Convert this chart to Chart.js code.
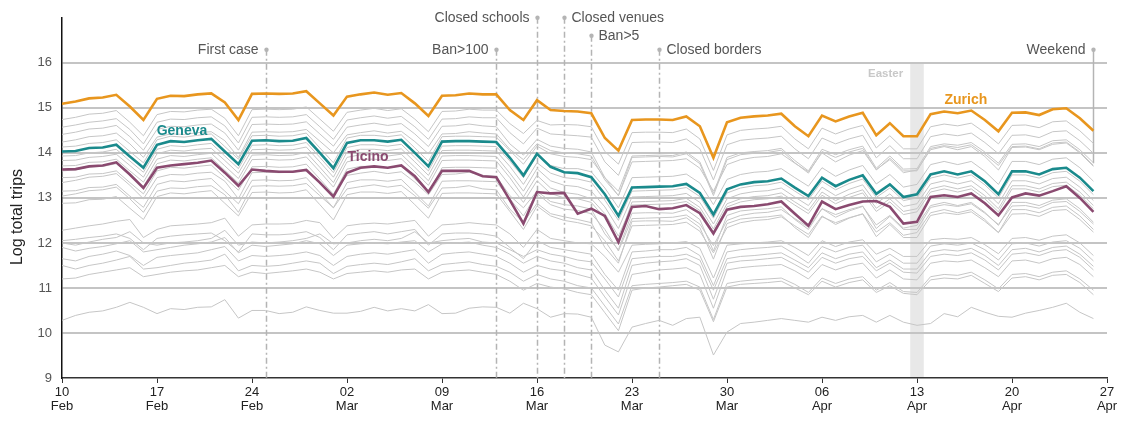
<!DOCTYPE html>
<html>
<head>
<meta charset="utf-8">
<script src="https://cdn.jsdelivr.net/npm/chart.js@4.4.0/dist/chart.umd.min.js"></script>
<style>
  html, body { margin: 0; padding: 0; background: #fff; }
</style>
</head>
<body>
<canvas id="tripsChart" width="1125" height="421"></canvas>
<script>
// x axis: day index from 10 Feb (0) to 26 Apr (76)
const TICK_DAYS   = ["10", "17", "24", "02", "09", "16", "23", "30", "06", "13", "20", "27"];
const TICK_MONTHS = ["Feb", "Feb", "Feb", "Mar", "Mar", "Mar", "Mar", "Mar", "Apr", "Apr", "Apr", "Apr"];
const Y_TICKS = [9, 10, 11, 12, 13, 14, 15, 16, 17];

const ZURICH = [15.09,15.14,15.21,15.23,15.29,15.03,14.73, 15.20,15.27,15.26,15.30,15.32,15.12,14.73,
  15.31,15.32,15.31,15.32,15.37,15.10,14.83, 15.25,15.30,15.34,15.29,15.33,15.10,14.82,
  15.27,15.28,15.32,15.30,15.30,14.95,14.73, 15.17,14.95,14.93,14.92,14.88,14.33,14.05,
  14.73,14.74,14.74,14.73,14.81,14.59,13.89, 14.68,14.78,14.81,14.83,14.87,14.59,14.37,
  14.83,14.70,14.81,14.89,14.39,14.66,14.37, 14.37,14.86,14.92,14.88,14.94,14.73,14.48,
  14.89,14.90,14.84,14.97,14.99,14.77,14.49];

const GENEVA = [14.03,14.04,14.11,14.12,14.18,13.92,13.67, 14.18,14.26,14.24,14.28,14.31,14.03,13.75,
  14.27,14.28,14.26,14.27,14.33,14.00,13.66, 14.22,14.28,14.28,14.25,14.29,14.00,13.70,
  14.25,14.26,14.26,14.25,14.24,13.89,13.50, 13.98,13.69,13.57,13.55,13.46,13.08,12.60,
  13.23,13.24,13.25,13.26,13.31,13.11,12.63, 13.19,13.30,13.35,13.37,13.43,13.23,13.04,
  13.45,13.26,13.40,13.50,13.09,13.30,13.02, 13.08,13.52,13.59,13.52,13.59,13.37,13.08,
  13.59,13.59,13.52,13.64,13.67,13.45,13.15];

const TICINO = [13.63,13.64,13.70,13.72,13.79,13.52,13.22, 13.67,13.72,13.75,13.78,13.83,13.56,13.27,
  13.63,13.60,13.58,13.58,13.62,13.34,13.03, 13.56,13.67,13.70,13.67,13.72,13.48,13.13,
  13.60,13.60,13.60,13.48,13.46,12.95,12.43, 13.13,13.10,13.11,12.65,12.76,12.60,12.02,
  12.80,12.82,12.75,12.77,12.84,12.66,12.21, 12.74,12.80,12.82,12.86,12.92,12.65,12.38,
  12.92,12.75,12.84,12.92,12.93,12.80,12.43, 12.47,13.02,13.06,13.02,13.10,12.88,12.61,
  13.01,13.10,13.05,13.15,13.26,13.00,12.69];

// other cantons (grey)
const OTHER_01 = [14.74,14.79,14.86,14.88,14.94,14.68,14.38, 14.85,14.92,14.91,14.95,14.97,14.77,14.38,
  14.96,14.97,14.96,14.97,15.02,14.75,14.48, 14.9,14.95,14.99,14.94,14.98,14.75,14.47,
  14.92,14.93,14.97,14.95,14.95,14.65,14.43, 14.72,14.62,14.63,14.62,14.58,14.03,13.75,
  14.45,14.46,14.46,14.45,14.53,14.31,13.61, 14.4,14.5,14.53,14.55,14.59,14.31,14.09,
  14.55,14.42,14.53,14.61,14.11,14.38,14.09, 14.09,14.58,14.64,14.6,14.66,14.45,14.2,
  14.61,14.62,14.56,14.69,14.71,14.49,14.21];
const OTHER_02 = [14.57,14.62,14.68,14.71,14.76,14.52,14.2, 14.68,14.75,14.74,14.78,14.8,14.6,14.22,
  14.79,14.8,14.79,14.8,14.85,14.58,14.3, 14.73,14.78,14.82,14.77,14.81,14.58,14.3,
  14.75,14.76,14.8,14.78,14.78,14.45,14.2, 14.55,14.42,14.4,14.38,14.35,13.8,13.5,
  14.23,14.24,14.24,14.23,14.31,14.09,13.4, 14.18,14.28,14.31,14.33,14.37,14.09,13.87,
  14.33,14.2,14.31,14.39,13.89,14.16,13.87, 13.87,14.36,14.42,14.38,14.44,14.23,13.98,
  14.39,14.4,14.34,14.47,14.49,14.27,13.99];
const OTHER_03 = [14.41,14.46,14.53,14.55,14.61,14.36,14.06, 14.52,14.59,14.58,14.62,14.64,14.44,14.06,
  14.63,14.64,14.63,14.64,14.69,14.42,14.15, 14.57,14.62,14.66,14.61,14.65,14.42,14.14,
  14.59,14.6,14.64,14.6,14.58,14.2,13.95, 14.3,14.15,14.1,14.08,14.02,13.45,13.15,
  13.93,13.94,13.95,13.94,14.02,13.8,13.1, 13.9,14.0,14.03,14.05,14.1,13.83,13.6,
  14.08,13.96,14.07,14.15,13.66,13.93,13.64, 13.65,14.14,14.2,14.17,14.23,14.02,13.77,
  14.19,14.2,14.14,14.27,14.29,14.07,13.78];
const OTHER_04 = [14.24,14.29,14.36,14.38,14.44,14.2,13.9, 14.35,14.42,14.41,14.45,14.47,14.27,13.9,
  14.46,14.47,14.46,14.47,14.52,14.26,14.0, 14.4,14.45,14.49,14.44,14.48,14.25,13.98,
  14.42,14.43,14.47,14.44,14.42,14.08,13.85, 14.2,14.05,14.0,13.98,13.93,13.4,13.05,
  13.9,13.91,13.92,13.91,13.98,13.76,13.05, 13.85,13.96,13.99,14.01,14.06,13.78,13.55,
  14.03,13.9,14.02,14.1,13.62,13.88,13.6, 13.6,14.1,14.16,14.12,14.18,13.97,13.72,
  14.14,14.15,14.09,14.22,14.24,14.02,13.72];
const OTHER_05 = [14.13,14.15,14.21,14.23,14.29,14.03,13.78, 14.29,14.37,14.35,14.39,14.42,14.14,13.86,
  14.38,14.39,14.37,14.38,14.44,14.11,13.78, 14.33,14.39,14.39,14.36,14.4,14.11,13.81,
  14.36,14.37,14.37,14.36,14.35,14.05,13.75, 14.15,13.98,13.92,13.9,13.85,13.45,13.05,
  13.8,13.81,13.82,13.83,13.87,13.66,13.15, 13.74,13.85,13.9,13.92,13.98,13.77,13.58,
  14.0,13.8,13.95,14.05,13.63,13.85,13.56, 13.62,14.07,14.14,14.07,14.14,13.92,13.62,
  14.12,14.13,14.07,14.19,14.22,14.0,13.7];
const OTHER_06 = [13.93,13.94,14.0,14.02,14.08,13.82,13.57, 14.08,14.16,14.14,14.18,14.21,13.93,13.65,
  14.17,14.18,14.16,14.17,14.23,13.9,13.56, 14.12,14.18,14.18,14.15,14.19,13.9,13.6,
  14.15,14.16,14.16,14.15,14.14,13.82,13.45, 13.95,13.72,13.65,13.65,13.58,13.22,12.78,
  13.45,13.46,13.47,13.48,13.53,13.33,12.85, 13.41,13.52,13.57,13.59,13.65,13.45,13.26,
  13.67,13.48,13.62,13.72,13.31,13.52,13.24, 13.3,13.74,13.81,13.74,13.81,13.59,13.3,
  13.81,13.81,13.74,13.86,13.89,13.67,13.37];
const OTHER_07 = [13.83,13.84,13.9,13.92,13.97,13.72,13.46, 13.98,14.06,14.04,14.08,14.1,13.83,13.55,
  14.07,14.08,14.06,14.07,14.13,13.8,13.46, 14.02,14.08,14.08,14.05,14.09,13.8,13.5,
  14.05,14.06,14.06,14.05,14.04,13.7,13.3, 13.78,13.55,13.45,13.42,13.35,12.95,12.5,
  13.15,13.16,13.17,13.18,13.23,13.03,12.55, 13.11,13.22,13.27,13.29,13.35,13.15,12.96,
  13.37,13.18,13.32,13.42,13.01,13.22,12.94, 13.0,13.44,13.51,13.44,13.51,13.29,13.0,
  13.51,13.51,13.44,13.56,13.59,13.37,13.07];
const OTHER_08 = [13.71,13.72,13.79,13.8,13.86,13.6,13.35, 13.86,13.94,13.92,13.96,13.99,13.71,13.43,
  13.95,13.96,13.94,13.95,14.01,13.68,13.34, 13.9,13.96,13.96,13.93,13.97,13.68,13.38,
  13.93,13.94,13.94,13.93,13.92,13.55,13.15, 13.65,13.38,13.28,13.25,13.15,12.8,12.32,
  13.02,13.03,13.04,13.05,13.1,12.9,12.42, 12.98,13.09,13.14,13.16,13.22,13.02,12.83,
  13.24,13.05,13.19,13.29,12.88,13.09,12.81, 12.87,13.31,13.38,13.31,13.38,13.16,12.87,
  13.38,13.38,13.31,13.43,13.46,13.24,12.94];
const OTHER_09 = [13.6,13.62,13.69,13.7,13.76,13.5,13.25, 13.76,13.84,13.82,13.86,13.89,13.61,13.33,
  13.85,13.86,13.84,13.85,13.91,13.58,13.24, 13.8,13.86,13.86,13.83,13.87,13.58,13.28,
  13.83,13.84,13.84,13.83,13.82,13.45,13.02, 13.5,13.22,13.12,13.08,12.98,12.65,12.15,
  12.84,12.85,12.86,12.87,12.92,12.72,12.24, 12.8,12.91,12.96,12.98,13.04,12.84,12.65,
  13.06,12.87,13.01,13.11,12.7,12.91,12.63, 12.69,13.13,13.2,13.13,13.2,12.98,12.69,
  13.2,13.2,13.13,13.25,13.28,13.06,12.76];
const OTHER_10 = [13.45,13.46,13.53,13.54,13.6,13.34,13.09, 13.6,13.68,13.66,13.7,13.73,13.45,13.17,
  13.69,13.7,13.68,13.69,13.75,13.42,13.08, 13.64,13.7,13.7,13.67,13.71,13.42,13.12,
  13.67,13.68,13.68,13.67,13.66,13.28,12.9, 13.38,13.1,13.0,12.98,12.9,12.55,12.05,
  12.91,12.92,12.93,12.94,12.99,12.79,12.31, 12.87,12.98,13.03,13.05,13.11,12.91,12.72,
  13.13,12.94,13.08,13.18,12.77,12.98,12.7, 12.76,13.2,13.27,13.2,13.27,13.05,12.76,
  13.27,13.27,13.2,13.32,13.35,13.13,12.83];
const OTHER_11 = [13.34,13.39,13.46,13.48,13.54,13.28,12.98, 13.45,13.52,13.51,13.55,13.57,13.37,12.98,
  13.56,13.57,13.56,13.57,13.62,13.35,13.08, 13.5,13.55,13.59,13.54,13.58,13.35,13.07,
  13.52,13.53,13.57,13.5,13.48,13.05,12.78, 13.15,12.92,12.85,12.82,12.75,12.2,11.85,
  12.66,12.67,12.67,12.66,12.74,12.52,11.82, 12.61,12.71,12.74,12.76,12.8,12.52,12.3,
  12.76,12.63,12.74,12.82,12.32,12.59,12.3, 12.3,12.79,12.85,12.81,12.87,12.66,12.41,
  12.82,12.83,12.77,12.9,12.92,12.7,12.42];
const OTHER_12 = [13.15,13.16,13.23,13.24,13.3,13.04,12.79, 13.3,13.38,13.36,13.4,13.43,13.15,12.87,
  13.39,13.4,13.38,13.39,13.45,13.12,12.78, 13.34,13.4,13.4,13.37,13.41,13.12,12.82,
  13.37,13.38,13.38,13.37,13.36,12.98,12.6, 13.1,12.85,12.75,12.72,12.65,12.3,11.82,
  12.54,12.55,12.56,12.57,12.62,12.42,11.94, 12.5,12.61,12.66,12.68,12.74,12.54,12.35,
  12.76,12.57,12.71,12.81,12.4,12.61,12.33, 12.39,12.83,12.9,12.83,12.9,12.68,12.39,
  12.9,12.9,12.83,12.95,12.98,12.76,12.46];
const OTHER_13 = [13.04,13.09,13.16,13.18,13.24,12.98,12.68, 13.15,13.22,13.21,13.25,13.27,13.07,12.68,
  13.26,13.27,13.26,13.27,13.32,13.05,12.78, 13.2,13.25,13.29,13.24,13.28,13.05,12.77,
  13.22,13.23,13.27,13.2,13.18,12.75,12.45, 12.88,12.65,12.58,12.52,12.45,11.9,11.55,
  12.48,12.49,12.49,12.48,12.56,12.34,11.64, 12.43,12.53,12.56,12.58,12.62,12.34,12.12,
  12.58,12.45,12.56,12.64,12.14,12.41,12.12, 12.12,12.61,12.67,12.63,12.69,12.48,12.23,
  12.64,12.65,12.59,12.72,12.74,12.52,12.24];
const OTHER_14 = [12.88,12.89,12.96,12.97,13.03,12.77,12.52, 13.03,13.11,13.09,13.13,13.16,12.88,12.6,
  13.12,13.13,13.11,13.12,13.18,12.85,12.51, 13.07,13.13,13.13,13.1,13.14,12.85,12.55,
  13.1,13.11,13.11,13.1,13.09,12.7,12.3, 12.82,12.6,12.5,12.45,12.38,12.05,11.6,
  12.38,12.39,12.4,12.41,12.46,12.26,11.78, 12.34,12.45,12.5,12.52,12.58,12.38,12.19,
  12.6,12.41,12.55,12.65,12.24,12.45,12.17, 12.23,12.67,12.74,12.67,12.74,12.52,12.23,
  12.74,12.74,12.67,12.79,12.82,12.6,12.3];
const OTHER_15 = [12.28,12.33,12.38,12.42,12.48,12.52,12.12, 12.3,12.38,12.4,12.42,12.45,12.55,12.15,
  12.4,12.42,12.42,12.43,12.5,12.45,12.1, 12.38,12.42,12.44,12.42,12.46,12.5,12.15,
  12.4,12.42,12.45,12.42,12.4,12.2,11.9, 12.3,12.1,12.05,12.0,11.98,11.7,11.35,
  11.95,11.97,11.98,12.0,12.03,11.88,11.22, 11.95,11.98,12.0,12.02,12.05,11.9,11.72,
  12.05,11.92,12.02,12.07,11.75,11.88,11.7, 11.7,12.07,12.1,12.08,12.12,11.96,11.76,
  12.1,12.12,12.06,12.15,12.18,12.0,11.72];
const OTHER_16 = [12.05,12.08,12.12,12.15,12.2,12.1,11.85, 12.1,12.15,12.18,12.2,12.22,12.05,11.8,
  12.2,12.18,12.18,12.2,12.25,12.12,11.85, 12.18,12.22,12.25,12.2,12.25,12.3,11.95,
  12.2,12.22,12.22,12.2,12.15,11.9,11.65, 12.05,11.9,11.85,11.8,11.75,11.3,10.95,
  11.8,11.82,11.85,11.85,11.9,11.72,11.05, 11.8,11.85,11.88,11.9,11.93,11.75,11.55,
  11.92,11.8,11.9,11.95,11.58,11.75,11.55, 11.55,11.93,11.98,11.95,12.0,11.85,11.62,
  11.98,12.0,11.93,12.02,12.05,11.88,11.6];
const OTHER_17 = [12.0,11.95,12.02,12.08,12.12,12.25,12.0, 11.95,12.0,12.02,12.05,12.1,12.28,11.95,
  12.02,12.0,12.02,12.05,12.1,12.2,11.98, 12.0,12.05,12.08,12.05,12.1,12.25,12.0,
  12.05,12.08,12.1,12.02,12.0,11.85,11.7, 11.85,11.75,11.7,11.62,11.58,11.2,10.8,
  11.65,11.68,11.7,11.7,11.75,11.62,10.95, 11.65,11.7,11.72,11.75,11.78,11.62,11.45,
  11.78,11.65,11.75,11.8,11.45,11.62,11.42, 11.42,11.8,11.85,11.82,11.88,11.72,11.5,
  11.85,11.88,11.8,11.9,11.93,11.75,11.48];
const OTHER_18 = [11.9,11.82,11.88,11.92,11.98,12.05,11.8, 11.85,11.9,11.95,11.98,12.02,12.12,11.78,
  11.95,11.92,11.95,11.98,12.05,11.98,11.72, 11.95,11.98,12.0,11.98,12.02,12.05,11.8,
  11.98,12.0,12.02,11.95,11.9,11.75,11.55, 11.7,11.6,11.55,11.45,11.4,10.95,10.55,
  11.5,11.55,11.58,11.6,11.65,11.5,10.75, 11.55,11.6,11.62,11.65,11.68,11.52,11.35,
  11.68,11.55,11.65,11.7,11.38,11.55,11.35, 11.33,11.7,11.75,11.72,11.78,11.62,11.4,
  11.75,11.78,11.72,11.82,11.85,11.68,11.4];
const OTHER_19 = [11.65,11.6,11.7,11.75,11.82,11.72,11.5, 11.68,11.72,11.75,11.78,11.85,11.92,11.6,
  11.72,11.7,11.72,11.75,11.8,11.72,11.5, 11.7,11.75,11.78,11.75,11.8,11.85,11.55,
  11.75,11.78,11.8,11.75,11.7,11.55,11.35, 11.5,11.42,11.38,11.3,11.22,10.8,10.4,
  11.3,11.35,11.4,11.42,11.45,11.3,10.55, 11.4,11.45,11.48,11.5,11.52,11.38,11.2,
  11.52,11.4,11.5,11.55,11.22,11.4,11.2, 11.18,11.55,11.6,11.58,11.62,11.45,11.25,
  11.6,11.62,11.55,11.65,11.68,11.52,11.25];
const OTHER_20 = [11.5,11.42,11.5,11.55,11.62,11.7,11.42, 11.45,11.5,11.55,11.58,11.62,11.75,11.38,
  11.5,11.48,11.5,11.55,11.6,11.55,11.32, 11.48,11.52,11.55,11.52,11.58,11.65,11.38,
  11.52,11.55,11.58,11.52,11.48,11.35,11.15, 11.3,11.2,11.15,11.05,11.0,10.6,10.2,
  11.05,11.08,11.1,11.12,11.15,11.02,10.3, 11.1,11.15,11.18,11.2,11.22,11.08,10.9,
  11.22,11.1,11.2,11.25,10.95,11.12,10.92, 10.9,11.25,11.3,11.28,11.35,11.18,10.98,
  11.3,11.32,11.25,11.35,11.38,11.2,10.95];
const OTHER_21 = [11.2,11.22,11.3,11.35,11.4,11.45,11.25, 11.3,11.35,11.38,11.4,11.45,11.5,11.25,
  11.35,11.32,11.35,11.38,11.42,11.35,11.2, 11.32,11.35,11.38,11.35,11.4,11.42,11.2,
  11.35,11.38,11.4,11.35,11.3,11.15,10.95, 11.1,11.02,10.98,10.9,10.85,10.45,10.05,
  10.95,11.0,11.02,11.05,11.08,10.95,10.25, 11.02,11.08,11.1,11.12,11.15,11.0,10.85,
  11.15,11.02,11.12,11.18,10.9,11.05,10.88, 10.85,11.18,11.22,11.2,11.28,11.1,10.92,
  11.22,11.25,11.18,11.28,11.3,11.12,10.85];
const OTHER_22 = [10.28,10.39,10.46,10.49,10.57,10.68,10.57, 10.43,10.54,10.52,10.57,10.58,10.74,10.33,
  10.5,10.5,10.43,10.46,10.58,10.5,10.44, 10.44,10.48,10.57,10.49,10.54,10.49,10.63,
  10.43,10.44,10.55,10.58,10.57,10.44,10.66, 10.54,10.35,10.43,10.42,10.35,9.73,9.58,
  10.13,10.21,10.28,10.17,10.32,10.35,9.51, 10.02,10.21,10.24,10.28,10.32,10.28,10.24,
  10.35,10.28,10.36,10.39,10.24,10.39,10.24, 10.17,10.21,10.43,10.36,10.57,10.46,10.37,
  10.35,10.44,10.5,10.57,10.66,10.46,10.32];

const OTHERS = [OTHER_01, OTHER_02, OTHER_03, OTHER_04, OTHER_05, OTHER_06, OTHER_07, OTHER_08,
  OTHER_09, OTHER_10, OTHER_11, OTHER_12, OTHER_13, OTHER_14, OTHER_15, OTHER_16, OTHER_17,
  OTHER_18, OTHER_19, OTHER_20, OTHER_21, OTHER_22];

// events (day index from 10 Feb)
const EVENT_NAMES = ["First case", "Ban>100", "Closed schools", "Closed venues", "Ban>5", "Closed borders", "Weekend"];
const EVENT_DAYS  = [15, 32, 35, 37, 39, 44, 76];
const EASTER_DAY = 63;

// where the event labels sit (log units) and which side of the line
const EVENT_LAYOUT = [
  { top: 16.29, side: "left" },
  { top: 16.29, side: "left" },
  { top: 17.0,  side: "left" },
  { top: 17.0,  side: "right" },
  { top: 16.6,  side: "right" },
  { top: 16.29, side: "right" },
  { top: 16.29, side: "left", solid: true, bottom: 13.77 }
];

const HIGHLIGHTS = [
  { name: "Zurich", data: ZURICH, color: "#e8961e", lx: 66.6, ly: 15.17 },
  { name: "Geneva", data: GENEVA, color: "#1a8a8c", lx: 8.84, ly: 14.48 },
  { name: "Ticino", data: TICINO, color: "#8a4a70", lx: 22.55, ly: 13.91 }
];

const toPoints = arr => arr.map((v, i) => ({ x: i, y: v }));

const datasets = [];
HIGHLIGHTS.forEach(h => {
  datasets.push({
    label: h.name,
    data: toPoints(h.data),
    borderColor: h.color,
    borderWidth: 2.6,
    pointRadius: 0,
    tension: 0,
    order: 0
  });
});
OTHERS.forEach((arr, k) => {
  datasets.push({
    label: "other " + (k + 1),
    data: toPoints(arr),
    borderColor: "#c6c6c6",
    borderWidth: 1,
    pointRadius: 0,
    tension: 0,
    order: 1
  });
});

const FONT = "'Liberation Sans', Arial, sans-serif";

const overlayPlugin = {
  id: "overlay",
  beforeDraw(chart){
    const { ctx, scales: { x, y } } = chart;
    const x0 = x.getPixelForValue(EASTER_DAY - 0.5);
    const x1 = x.getPixelForValue(EASTER_DAY + 0.5);
    const yt = y.getPixelForValue(16);
    const yb = y.getPixelForValue(9);
    ctx.save();
    ctx.fillStyle = "#e8e8e8";
    ctx.fillRect(x0, yt, x1 - x0, yb - yt);
    ctx.font = "bold 11.5px " + FONT;
    ctx.fillStyle = "#c8c8c8";
    ctx.textAlign = "right";
    ctx.textBaseline = "middle";
    ctx.fillText("Easter", x0 - 7, y.getPixelForValue(15.76));
    ctx.restore();
  },
  beforeDatasetsDraw(chart){
    const { ctx, scales: { x, y } } = chart;
    ctx.save();
    EVENT_DAYS.forEach((d, k) => {
      const lay = EVENT_LAYOUT[k];
      const px = Math.round(x.getPixelForValue(d)) + 0.5;
      const top = y.getPixelForValue(lay.top);
      const bot = y.getPixelForValue(lay.bottom != null ? lay.bottom : 9);
      ctx.strokeStyle = "#b4b4b4";
      ctx.lineWidth = 1.5;
      ctx.setLineDash(lay.solid ? [] : [6, 3, 2, 3]);
      ctx.beginPath();
      ctx.moveTo(px, top);
      ctx.lineTo(px, bot);
      ctx.stroke();
      ctx.setLineDash([]);
      ctx.fillStyle = "#b4b4b4";
      ctx.beginPath();
      ctx.arc(px, top, 2.2, 0, Math.PI * 2);
      ctx.fill();
      ctx.font = "14px " + FONT;
      ctx.fillStyle = "#555";
      ctx.textBaseline = "middle";
      if(lay.side === "left"){
        ctx.textAlign = "right";
        ctx.fillText(EVENT_NAMES[k], px - 8, top);
      } else {
        ctx.textAlign = "left";
        ctx.fillText(EVENT_NAMES[k], px + 7, top);
      }
    });
    ctx.restore();
  },
  afterDatasetsDraw(chart){
    const { ctx, scales: { x, y } } = chart;
    ctx.save();
    ctx.font = "bold 14px " + FONT;
    ctx.textAlign = "center";
    ctx.textBaseline = "middle";
    HIGHLIGHTS.forEach(h => {
      ctx.fillStyle = h.color;
      ctx.fillText(h.name, x.getPixelForValue(h.lx), y.getPixelForValue(h.ly));
    });
    ctx.translate(18, 217);
    ctx.rotate(-Math.PI / 2);
    ctx.font = "16px " + FONT;
    ctx.fillStyle = "#222";
    ctx.fillText("Log total trips", 0, 0);
    ctx.restore();
  }
};

new Chart(document.getElementById("tripsChart"), {
  type: "line",
  data: { datasets },
  options: {
    responsive: false,
    animation: false,
    layout: { padding: { top: 16, right: 18, left: 0, bottom: 0 } },
    plugins: { legend: { display: false }, tooltip: { enabled: false } },
    scales: {
      x: {
        type: "linear",
        min: 0,
        max: 77,
        afterBuildTicks: s => { s.ticks = TICK_DAYS.map((_, k) => ({ value: k * 7 })); },
        afterFit: s => { s.height = 43; },
        ticks: {
          autoSkip: false,
          maxRotation: 0,
          padding: 2,
          color: "#222",
          font: { family: FONT, size: 13, lineHeight: 1.1 },
          callback: v => {
            const k = Math.round(v / 7);
            return [TICK_DAYS[k], TICK_MONTHS[k]];
          }
        },
        grid: { drawOnChartArea: false, drawTicks: true, tickLength: 5, color: "#333", lineWidth: 1 },
        border: { color: "#333", width: 1.5 }
      },
      y: {
        min: 9,
        max: 17,
        afterBuildTicks: s => { s.ticks = Y_TICKS.map(v => ({ value: v })); },
        afterFit: s => { s.width = 62; },
        ticks: {
          padding: 10,
          color: "#555",
          font: { family: FONT, size: 13 },
          callback: v => (v === 17 ? "" : String(v))
        },
        grid: {
          drawTicks: false,
          lineWidth: 2,
          color: c => (c.tick && (c.tick.value === 9 || c.tick.value === 17)) ? "rgba(0,0,0,0)" : "#c4c4c4"
        },
        border: { color: "#111", width: 1.5 }
      }
    }
  },
  plugins: [overlayPlugin]
});
</script>
</body>
</html>
